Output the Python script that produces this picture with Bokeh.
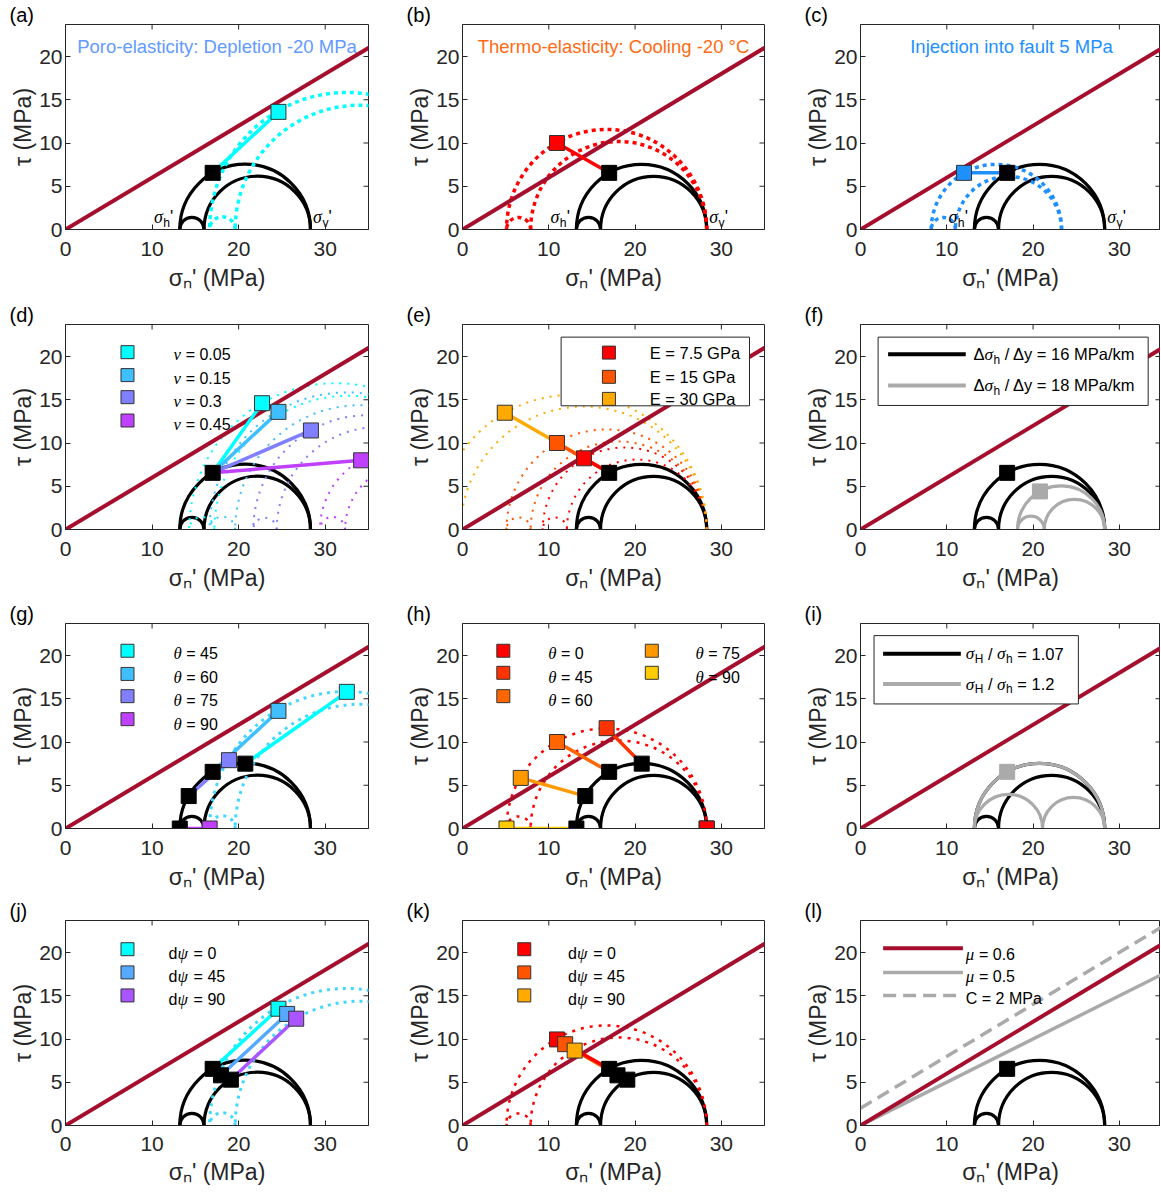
import numpy as np
from bokeh.plotting import figure
from bokeh.layouts import gridplot
from bokeh.models import Range1d, FixedTicker
from bokeh.core.properties import value
from bokeh.embed import file_html
from bokeh.resources import INLINE

# ---------------------------------------------------------------- data
X_TICKS = [0, 10, 20, 30]
Y_TICKS = [0, 5, 10, 15, 20]
MU = 0.6
MU_LOW = 0.5
COHESION = 2.0

# principal effective stresses [sigma_h', sigma_H', sigma_v'] (MPa)
S_INIT = [13.2, 16.0, 28.3]
FAULT_INIT = [17.0, 6.55]

S_DEPL = [16.65, 19.6, 48.3]          # (a)
FAULT_DEPL = [24.6, 13.6]
S_COOL = [5.1, 7.9, 28.3]             # (b)
FAULT_COOL = [10.95, 10.0]
S_INJ = [8.2, 11.0, 23.3]             # (c)
FAULT_INJ = [12.0, 6.55]

NU_LABELS = ["0.05", "0.15", "0.3", "0.45"]   # (d)
NU_S3 = [14.3, 16.65, 21.7, 29.4]
NU_S2 = [17.2, 19.6, 24.4, 32.3]
NU_S1 = [48.1, 48.3, 48.1, 47.6]
NU_SN = [22.7, 24.6, 28.35, 34.15]
NU_TAU = [14.6, 13.6, 11.45, 8.0]

E_LABELS = ["7.5", "15", "30"]               # (e)
E_S3 = [9.3, 5.1, -2.9]
E_S2 = [12.1, 7.9, -0.2]
E_S1 = [28.3, 28.3, 28.3]
E_SN = [14.08, 10.95, 4.9]
E_TAU = [8.23, 10.0, 13.5]

GRAD_LABELS = ["16", "18"]                   # (f)
S_GRAD = [18.2, 21.3, 28.3]
FAULT_GRAD = [20.8, 4.4]

THETA_G = ["45", "60", "75", "90"]           # (g)
G_SN0 = [20.77, 17.0, 14.23, 13.2]
G_TAU0 = [7.5, 6.55, 3.75, 0.0]
G_SN1 = [32.5, 24.6, 18.88, 16.65]
G_TAU1 = [15.8, 13.6, 7.9, 0.0]

THETA_H = ["0", "45", "60", "75", "90"]      # (h)
H_SN0 = [28.3, 20.77, 17.0, 14.23, 13.2]
H_TAU0 = [0.0, 7.5, 6.55, 3.75, 0.0]
H_SN1 = [28.3, 16.7, 10.95, 6.75, 5.1]
H_TAU1 = [0.0, 11.6, 10.0, 5.85, 0.0]

RATIO_LABELS = ["1.07", "1.2"]               # (i)
S_RATIO = [13.2, 21.1, 28.3]

DPSI = ["0", "45", "90"]                     # (j), (k)
DPSI_SN0 = [17.0, 17.96, 19.1]
DPSI_TAU0 = [6.55, 5.8, 5.3]
J_SN1 = [24.6, 25.6, 26.65]
J_TAU1 = [13.5, 12.9, 12.35]
K_SN1 = [10.95, 11.9, 13.0]
K_TAU1 = [9.95, 9.4, 8.66]

FRIC_MU = ["0.6", "0.5"]                     # (l)
FRIC_C = "2"

# ---------------------------------------------------------------- style
SANS = "Liberation Sans"
SERIF = "Liberation Serif"
INK = "#262626"
FRIC_COLOR = "#A50F2D"
GRAY = "#AAAAAA"
COOL4 = ["#00FFFF", "#40BFFF", "#8080FF", "#BF40FF"]
COOL3 = ["#00FFFF", "#55AAFF", "#AA55FF"]
AUT3 = ["#FF0000", "#FF5500", "#FFAA00"]
AUT5 = ["#FF0000", "#FF3300", "#FF6600", "#FF9900", "#FFCC00"]
EDGE = "#333333"

COL_W = [404, 398, 358]
COL_LB = [65, 57, 57]
COL_RB = [36, 38, 0]
X_END = [35.0, 35.0, 34.77]
ROW_H = [300, 299, 297, 294]
TOP_B = 24
Y_END = 23.7
TICK_LEN = 0.58

SANS_W = {' ': .278, '.': .278, '/': .278, '=': .584, "'": .191, '(': .333, ')': .333,
          '-': .333, ':': .278, '°': .4, 'Δ': .668, 'C': .722, 'E': .667, 'G': .778,
          'H': .722, 'M': .833, 'P': .667, 'a': .556, 'd': .556, 'h': .556, 'k': .5,
          'm': .833, 'y': .5, 'v': .5}
GREEK_W = {'σ': .52, 'ν': .46, 'θ': .5, 'μ': .52, 'ψ': .7}


def piece_style(kind, size):
    if kind == 'greek':
        return SERIF, 'italic', size * 1.05, 0.0
    if kind == 'sub':
        return SANS, 'normal', size * 0.72, size * 0.33
    return SANS, 'normal', size, 0.0


def piece_width(txt, kind, size):
    font, style, fs, dy = piece_style(kind, size)
    if kind == 'greek':
        return fs * sum(GREEK_W.get(ch, .55) for ch in txt)
    return fs * sum(SANS_W.get(ch, .556) for ch in txt)


def rich_text(p, x, y, pieces, size, color="#000000", align="left"):
    total = sum(piece_width(t, k, size) for t, k in pieces)
    off = {'left': 0.0, 'right': -total, 'center': -total / 2}[align]
    for t, k in pieces:
        font, style, fs, dy = piece_style(k, size)
        stripped = t.lstrip(' ')
        lead = piece_width(t[:len(t) - len(stripped)], k, size)
        p.text(x=[x], y=[y], text=[stripped], x_offset=off + lead, y_offset=dy,
               text_font=value(font), text_font_style=style,
               text_font_size=f"{fs:.1f}px", text_color=color,
               text_align="left", text_baseline="middle")
        off += piece_width(t, k, size)


def base_fig(r, c, letter):
    h = ROW_H[r]
    last = (r == 3)
    p = figure(width=COL_W[c], height=h, x_range=Range1d(0, X_END[c]),
               y_range=Range1d(0, Y_END), output_backend="svg",
               toolbar_location=None, tools="",
               min_border_left=COL_LB[c], min_border_right=COL_RB[c],
               min_border_top=TOP_B, min_border_bottom=h - TOP_B - 205)
    p.grid.visible = False
    p.outline_line_color = INK
    p.outline_line_width = 1
    p.background_fill_color = "white"
    p.border_fill_color = "white"
    for ax, ticks in ((p.xaxis[0], X_TICKS), (p.yaxis[0], Y_TICKS)):
        ax.ticker = FixedTicker(ticks=ticks)
        ax.major_tick_in = 5
        ax.major_tick_out = 0
        ax.minor_tick_in = 0
        ax.minor_tick_out = 0
        ax.axis_line_color = INK
        ax.major_tick_line_color = INK
        ax.major_label_text_font = SANS
        ax.major_label_text_font_size = "21px"
        ax.major_label_text_color = INK
        ax.axis_label_text_font = SANS
        ax.axis_label_text_font_size = "23px"
        ax.axis_label_text_font_style = "normal"
        ax.axis_label_text_color = INK
    p.xaxis.axis_label = "σₙ' (MPa)"
    p.yaxis.axis_label = "τ (MPa)"
    p.xaxis.major_label_standoff = 11 if last else 12
    p.xaxis.axis_label_standoff = 5 if last else 6
    p.yaxis.major_label_standoff = 3
    p.yaxis.axis_label_standoff = 0
    # inward tick marks on the top and right sides of the box
    nx, ny = len(X_TICKS), len(Y_TICKS)
    p.segment(x0=X_TICKS, x1=X_TICKS, y0=[Y_END] * nx, y1=[Y_END - TICK_LEN] * nx,
              line_color=INK, line_width=1)
    p.segment(x0=[X_END[c]] * ny, x1=[X_END[c] - TICK_LEN] * ny, y0=Y_TICKS, y1=Y_TICKS,
              line_color=INK, line_width=1)
    # panel letter
    p.title.text = f"({letter})"
    p.title.align = "left"
    p.title.offset = -56
    p.title.standoff = -3
    p.title.text_font = SANS
    p.title.text_font_size = "20px"
    p.title.text_font_style = "normal"
    p.title.text_color = "#000000"
    return p


def mohr(p, s, color, width=3.2, dash="solid"):
    s3, s2, s1 = s
    lo = [s3, s2, s3]
    hi = [s1, s1, s2]
    xc = [(a + b) / 2 for a, b in zip(lo, hi)]
    rr = [(b - a) / 2 for a, b in zip(lo, hi)]
    p.arc(x=xc, y=[0, 0, 0], radius=rr, start_angle=0, end_angle=np.pi,
          line_color=color, line_width=width, line_dash=dash)


def friction(p, mu=MU, c0=0.0, color=FRIC_COLOR, width=4, dash="solid"):
    xs = np.array([0.0, 36.0])
    p.line(xs, c0 + mu * xs, line_color=color, line_width=width, line_dash=dash)


def squares(p, xs, ys, colors, size=15, edge=EDGE):
    p.scatter(x=xs, y=ys, marker="square", size=size, fill_color=colors,
              line_color=edge, line_width=1)


def seg(p, x0, y0, x1, y1, color, width=3.5):
    p.line([x0, x1], [y0, y1], line_color=color, line_width=width)


def sigma_labels(p):
    rich_text(p, 12.45, 1.45, [("σ", "greek"), ("h", "sub"), ("'", "sans")], 17, align="right")
    rich_text(p, 28.6, 1.45, [("σ", "greek"), ("v", "sub"), ("'", "sans")], 17)


def title(p, txt, color):
    p.text(x=[17.5], y=[21.2], text=[txt], text_font=value(SANS), text_font_size="18.5px",
           text_color=color, text_align="center", text_baseline="middle")


def box(p, l, r, t, b):
    p.quad(left=[l], right=[r], top=[t], bottom=[b], fill_color="white",
           line_color=INK, line_width=1)


DOT_THICK = "4 4"
DOT_THIN = "2 6"
DOT_MED = "3 6"

# ---------------------------------------------------------------- (a)
pa = base_fig(0, 0, "a")
mohr(pa, S_INIT, "black")
mohr(pa, S_DEPL, "#00FFFF", 3.5, DOT_THICK)
friction(pa)
seg(pa, FAULT_INIT[0], FAULT_INIT[1], FAULT_DEPL[0], FAULT_DEPL[1], "#00FFFF")
squares(pa, [FAULT_INIT[0]], [FAULT_INIT[1]], ["black"], edge="black")
squares(pa, [FAULT_DEPL[0]], [FAULT_DEPL[1]], ["#00FFFF"])
sigma_labels(pa)
title(pa, "Poro-elasticity: Depletion -20 MPa", "#629AFF")

# ---------------------------------------------------------------- (b)
pb = base_fig(0, 1, "b")
mohr(pb, S_INIT, "black")
mohr(pb, S_COOL, "#FF0000", 3.5, DOT_THICK)
friction(pb)
seg(pb, FAULT_INIT[0], FAULT_INIT[1], FAULT_COOL[0], FAULT_COOL[1], "#FF0000")
squares(pb, [FAULT_INIT[0]], [FAULT_INIT[1]], ["black"], edge="black")
squares(pb, [FAULT_COOL[0]], [FAULT_COOL[1]], ["#FF0000"])
sigma_labels(pb)
title(pb, "Thermo-elasticity: Cooling -20 °C", "#FF6A13")

# ---------------------------------------------------------------- (c)
pc = base_fig(0, 2, "c")
mohr(pc, S_INIT, "black")
mohr(pc, S_INJ, "#1E90FF", 3.5, DOT_THICK)
friction(pc)
seg(pc, FAULT_INIT[0], FAULT_INIT[1], FAULT_INJ[0], FAULT_INJ[1], "#1E90FF")
squares(pc, [FAULT_INIT[0]], [FAULT_INIT[1]], ["black"], edge="black")
squares(pc, [FAULT_INJ[0]], [FAULT_INJ[1]], ["#1E90FF"])
sigma_labels(pc)
title(pc, "Injection into fault 5 MPa", "#1E90FF")

# ---------------------------------------------------------------- (d)
LEG4_SQ_Y = [20.5, 17.85, 15.3, 12.6]
LEG4_TX_Y = [20.2, 17.5, 14.85, 12.1]
pd_ = base_fig(1, 0, "d")
mohr(pd_, S_INIT, "black")
for i in range(4):
    mohr(pd_, [NU_S3[i], NU_S2[i], NU_S1[i]], COOL4[i], 2, DOT_THIN)
friction(pd_)
for i in range(4):
    seg(pd_, FAULT_INIT[0], FAULT_INIT[1], NU_SN[i], NU_TAU[i], COOL4[i])
squares(pd_, [FAULT_INIT[0]], [FAULT_INIT[1]], ["black"], edge="black")
squares(pd_, NU_SN, NU_TAU, COOL4)
squares(pd_, [7.16] * 4, LEG4_SQ_Y, COOL4, size=13)
for i in range(4):
    rich_text(pd_, 12.47, LEG4_TX_Y[i], [("ν", "greek"), (" = " + NU_LABELS[i], "sans")], 16)

# ---------------------------------------------------------------- (e)
pe = base_fig(1, 1, "e")
mohr(pe, S_INIT, "black")
for i in range(3):
    mohr(pe, [E_S3[i], E_S2[i], E_S1[i]], AUT3[i], 2, DOT_THIN)
friction(pe)
for i in (2, 1, 0):
    seg(pe, FAULT_INIT[0], FAULT_INIT[1], E_SN[i], E_TAU[i], AUT3[i])
squares(pe, [FAULT_INIT[0]], [FAULT_INIT[1]], ["black"], edge="black")
squares(pe, E_SN, E_TAU, AUT3)
box(pe, 11.43, 33.26, 22.24, 14.3)
E_LEG_Y = [20.45, 17.65, 15.1]
squares(pe, [16.97] * 3, E_LEG_Y, AUT3, size=13)
pe.text(x=[21.7] * 3, y=E_LEG_Y, text=[f"E = {v} GPa" for v in E_LABELS],
        text_font=value(SANS), text_font_size="16.5px", text_color="black",
        text_baseline="middle")

# ---------------------------------------------------------------- (f)
pf = base_fig(1, 2, "f")
mohr(pf, S_INIT, "black")
mohr(pf, S_GRAD, GRAY)
friction(pf)
squares(pf, [FAULT_INIT[0]], [FAULT_INIT[1]], ["black"], edge="black")
squares(pf, [FAULT_GRAD[0]], [FAULT_GRAD[1]], [GRAY], edge=GRAY)
box(pf, 2.04, 33.34, 22.24, 14.34)
F_LEG_Y = [20.27, 16.66]
for yy, col, g in zip(F_LEG_Y, ["black", GRAY], GRAD_LABELS):
    pf.line([3.2, 12.2], [yy, yy], line_color=col, line_width=4)
    rich_text(pf, 13.1, yy, [("Δ", "sans"), ("σ", "greek"), ("h", "sub"),
                             (f" / Δy = {g} MPa/km", "sans")], 16.5)

# ---------------------------------------------------------------- (g)
pg = base_fig(2, 0, "g")
mohr(pg, S_INIT, "black")
mohr(pg, S_DEPL, "#40D8FF", 3, "3 5")
friction(pg)
for i in range(4):
    seg(pg, G_SN0[i], G_TAU0[i], G_SN1[i], G_TAU1[i], COOL4[i])
squares(pg, G_SN0, G_TAU0, ["black"] * 4, edge="black")
squares(pg, G_SN1, G_TAU1, COOL4)
LEG4_SQ_Yg = [20.55, 17.87, 15.3, 12.64]
LEG4_TX_Yg = [20.2, 17.5, 14.85, 12.06]
squares(pg, [7.16] * 4, LEG4_SQ_Yg, COOL4, size=13)
for i in range(4):
    rich_text(pg, 12.47, LEG4_TX_Yg[i], [("θ", "greek"), (" = " + THETA_G[i], "sans")], 16)

# ---------------------------------------------------------------- (h)
ph = base_fig(2, 1, "h")
mohr(ph, S_INIT, "black")
mohr(ph, S_COOL, "#FF0000", 2.5, DOT_MED)
friction(ph)
for i in range(5):
    seg(ph, H_SN0[i], H_TAU0[i], H_SN1[i], H_TAU1[i], AUT5[i])
squares(ph, H_SN0, H_TAU0, ["black"] * 5, edge="black")
squares(ph, H_SN1, H_TAU1, AUT5)
H_SQ_X = [4.73, 4.73, 4.73, 21.94, 21.94]
H_SQ_Y = [20.55, 18.0, 15.3, 20.55, 18.0]
H_TX_X = [9.93, 9.93, 9.93, 27.0, 27.0]
H_TX_Y = [20.2, 17.5, 14.85, 20.2, 17.5]
squares(ph, H_SQ_X, H_SQ_Y, AUT5, size=13)
for i in range(5):
    rich_text(ph, H_TX_X[i], H_TX_Y[i], [("θ", "greek"), (" = " + THETA_H[i], "sans")], 16)

# ---------------------------------------------------------------- (i)
pi_ = base_fig(2, 2, "i")
mohr(pi_, S_INIT, "black")
mohr(pi_, S_RATIO, GRAY)
friction(pi_)
squares(pi_, [FAULT_INIT[0]], [FAULT_INIT[1]], [GRAY], edge=GRAY)
box(pi_, 1.57, 25.25, 22.3, 14.4)
I_LEG_Y = [20.2, 16.7]
for yy, col, rv in zip(I_LEG_Y, ["black", GRAY], RATIO_LABELS):
    pi_.line([2.62, 11.63], [yy, yy], line_color=col, line_width=4)
    rich_text(pi_, 12.2, yy, [("σ", "greek"), ("H", "sub"), (" / ", "sans"),
                              ("σ", "greek"), ("h", "sub"), (f" = {rv}", "sans")], 16.5)

# ---------------------------------------------------------------- (j)
LEG3_SQ_Y = [20.38, 17.7, 15.04]
LEG3_TX_Y = [19.9, 17.25, 14.57]
pj = base_fig(3, 0, "j")
mohr(pj, S_INIT, "black")
mohr(pj, S_DEPL, "#40D8FF", 3, "3 5")
friction(pj)
for i in range(3):
    seg(pj, DPSI_SN0[i], DPSI_TAU0[i], J_SN1[i], J_TAU1[i], COOL3[i])
squares(pj, DPSI_SN0, DPSI_TAU0, ["black"] * 3, edge="black")
squares(pj, J_SN1, J_TAU1, COOL3)
squares(pj, [7.16] * 3, LEG3_SQ_Y, COOL3, size=13)
for i in range(3):
    rich_text(pj, 11.9, LEG3_TX_Y[i], [("d", "sans"), ("ψ", "greek"), (" = " + DPSI[i], "sans")], 16)

# ---------------------------------------------------------------- (k)
pk = base_fig(3, 1, "k")
mohr(pk, S_INIT, "black")
mohr(pk, S_COOL, "#FF0000", 2.5, DOT_MED)
friction(pk)
for i in (2, 1, 0):
    seg(pk, DPSI_SN0[i], DPSI_TAU0[i], K_SN1[i], K_TAU1[i], AUT3[i])
squares(pk, DPSI_SN0, DPSI_TAU0, ["black"] * 3, edge="black")
squares(pk, K_SN1, K_TAU1, AUT3)
squares(pk, [7.16] * 3, LEG3_SQ_Y, AUT3, size=13)
for i in range(3):
    rich_text(pk, 12.24, LEG3_TX_Y[i], [("d", "sans"), ("ψ", "greek"), (" = " + DPSI[i], "sans")], 16)

# ---------------------------------------------------------------- (l)
pl = base_fig(3, 2, "l")
mohr(pl, S_INIT, "black")
friction(pl, MU, COHESION, GRAY, 3.5, "13 7")
friction(pl, MU_LOW, 0.0, GRAY, 3.5)
friction(pl)
squares(pl, [FAULT_INIT[0]], [FAULT_INIT[1]], ["black"], edge="black")
L_LINE_Y = [20.5, 17.7, 15.04]
L_TX_Y = [19.8, 17.25, 14.7]
pl.line([2.62, 11.87], [L_LINE_Y[0]] * 2, line_color=FRIC_COLOR, line_width=4)
pl.line([2.62, 11.87], [L_LINE_Y[1]] * 2, line_color=GRAY, line_width=3.5)
pl.line([2.62, 11.87], [L_LINE_Y[2]] * 2, line_color=GRAY, line_width=3.5, line_dash="13 7")
rich_text(pl, 12.2, L_TX_Y[0], [("μ", "greek"), (f" = {FRIC_MU[0]}", "sans")], 16)
rich_text(pl, 12.2, L_TX_Y[1], [("μ", "greek"), (f" = {FRIC_MU[1]}", "sans")], 16)
rich_text(pl, 12.2, L_TX_Y[2], [(f"C = {FRIC_C} MPa", "sans")], 16)

grid = gridplot([[pa, pb, pc], [pd_, pe, pf], [pg, ph, pi_], [pj, pk, pl]],
                toolbar_location=None)

with open("out.html", "w") as fh:
    fh.write(file_html(grid, INLINE, title="Mohr circles"))
